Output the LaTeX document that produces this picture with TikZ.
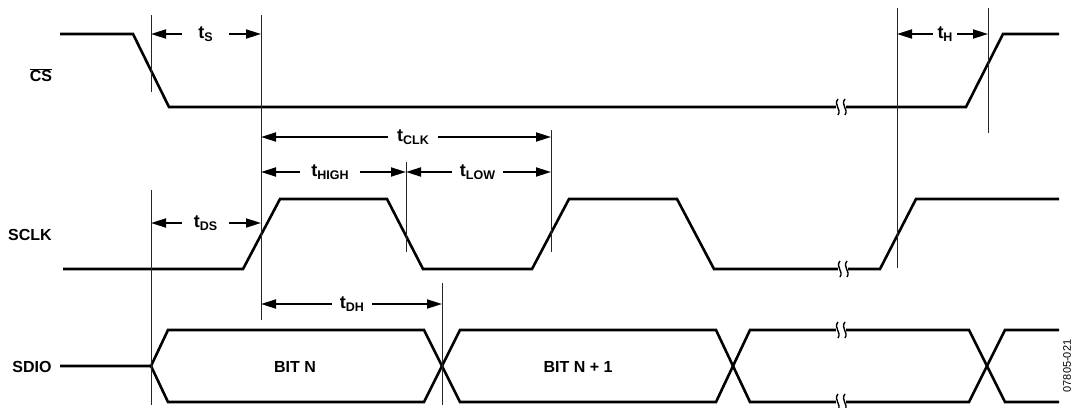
\documentclass[tikz,border=0pt]{standalone}
\usepackage{fontspec}
\setmainfont{Liberation Sans}
\usetikzlibrary{arrows.meta, positioning}
\tikzstyle{signal} = [line width=2.6pt, line join=miter]
\tikzstyle{marker} = [line width=0.9pt, black!85]
\tikzstyle{dimarrow} = [line width=1.8pt, -{Triangle[length=15pt,width=9pt]}]
\tikzstyle{signame} = [font=\fontsize{16}{19}\selectfont\bfseries, inner sep=0pt]
\tikzstyle{tlabel} = [font=\fontsize{18}{20}\selectfont\bfseries, inner ysep=0pt]
\newcommand{\ts}[1]{t\raisebox{-3pt}{\fontsize{12.5}{14}\selectfont #1}}

\begin{document}
\begin{tikzpicture}[x=1pt, y=-1pt, >=latex]
  \useasboundingbox (0,0) rectangle (1073,407);
  % signal names
  \node [signame] (cs) at (41,75) {$\overline{\mbox{CS}}$};
  \node [signame] (sclk) at (30,235) {SCLK};
  \node [signame] (sdio) at (32,367) {SDIO};
  \node [signame] (bitn) at (295,367) {BIT N};
  \node [signame] (bitn1) at (578,367) {BIT N + 1};
  \node [rotate=90, font=\fontsize{11}{12}\selectfont] (fig) at (1067,366) {07805-021};
  % waveforms
  \draw [signal] (60,34) -- (133,34) -- (169,107) -- (966,107) -- (1003,34) -- (1059,34);
  \draw [signal] (63,269) -- (243,269) -- (280,199) -- (387,199) -- (423,269) -- (532,269)
    -- (569,199) -- (677,199) -- (714,269) -- (880,269) -- (916,199) -- (1059,199);
  \draw [signal] (60,366) -- (151,366) -- (168,330) -- (424,330) -- (460,402) -- (716,402)
    -- (750,330) -- (969,330) -- (1005,402) -- (1059,402);
  \draw [signal] (151,366) -- (168,402) -- (424,402) -- (460,330) -- (716,330)
    -- (750,402) -- (969,402) -- (1005,330) -- (1059,330);
  % breaks
  \foreach \x/\y in {841/107, 843/269, 841/330, 841/402} {
    \fill [white] (\x-5,\y-3) rectangle (\x+5,\y+3);
    \draw [line width=1.4pt] (\x-3,\y-8) .. controls (\x-8,\y-2) and (\x+1,\y+2) .. (\x-3,\y+8);
    \draw [line width=1.4pt] (\x+4,\y-8) .. controls (\x-1,\y-2) and (\x+8,\y+2) .. (\x+4,\y+8);
  }
  % timing markers
  \foreach \n/\x/\a/\b in {a/151/15/92, b/151/190/405, c/261/15/320, d/406/162/252,
                            e/551/130/252, f/442/283/405, g/897/8/268, h/988/8/133}
    \draw [marker] (\x,\a) coordinate (\n1) -- (\x,\b) coordinate (\n2);
  % timing labels
  \node [tlabel, inner xsep=16pt] (tS) at (205.5,34) {\ts{S}};
  \draw [dimarrow] (tS.west) -- (tS.west -| a1);
  \draw [dimarrow] (tS.east) -- (tS.east -| c1);
  \node [tlabel, inner xsep=4.5pt] (tH) at (945,34) {\ts{H}};
  \draw [dimarrow] (tH.west) -- (tH.west -| g1);
  \draw [dimarrow] (tH.east) -- (tH.east -| h1);
  \node [tlabel, inner xsep=9pt] (tCLK) at (413,137) {\ts{CLK}};
  \draw [dimarrow] (tCLK.west) -- (tCLK.west -| c1);
  \draw [dimarrow] (tCLK.east) -- (tCLK.east -| e1);
  \node [tlabel, inner xsep=11.5pt] (tHIGH) at (330,172) {\ts{HIGH}};
  \draw [dimarrow] (tHIGH.west) -- (tHIGH.west -| c1);
  \draw [dimarrow] (tHIGH.east) -- (tHIGH.east -| d1);
  \node [tlabel, inner xsep=8pt] (tLOW) at (477.5,172) {\ts{LOW}};
  \draw [dimarrow] (tLOW.west) -- (tLOW.west -| d1);
  \draw [dimarrow] (tLOW.east) -- (tLOW.east -| e1);
  \node [tlabel, inner xsep=11.8pt] (tDS) at (205.5,223) {\ts{DS}};
  \draw [dimarrow] (tDS.west) -- (tDS.west -| b1);
  \draw [dimarrow] (tDS.east) -- (tDS.east -| c1);
  \node [tlabel, inner xsep=8pt] (tDH) at (352,304) {\ts{DH}};
  \draw [dimarrow] (tDH.west) -- (tDH.west -| c1);
  \draw [dimarrow] (tDH.east) -- (tDH.east -| f1);
\end{tikzpicture}
\end{document}
